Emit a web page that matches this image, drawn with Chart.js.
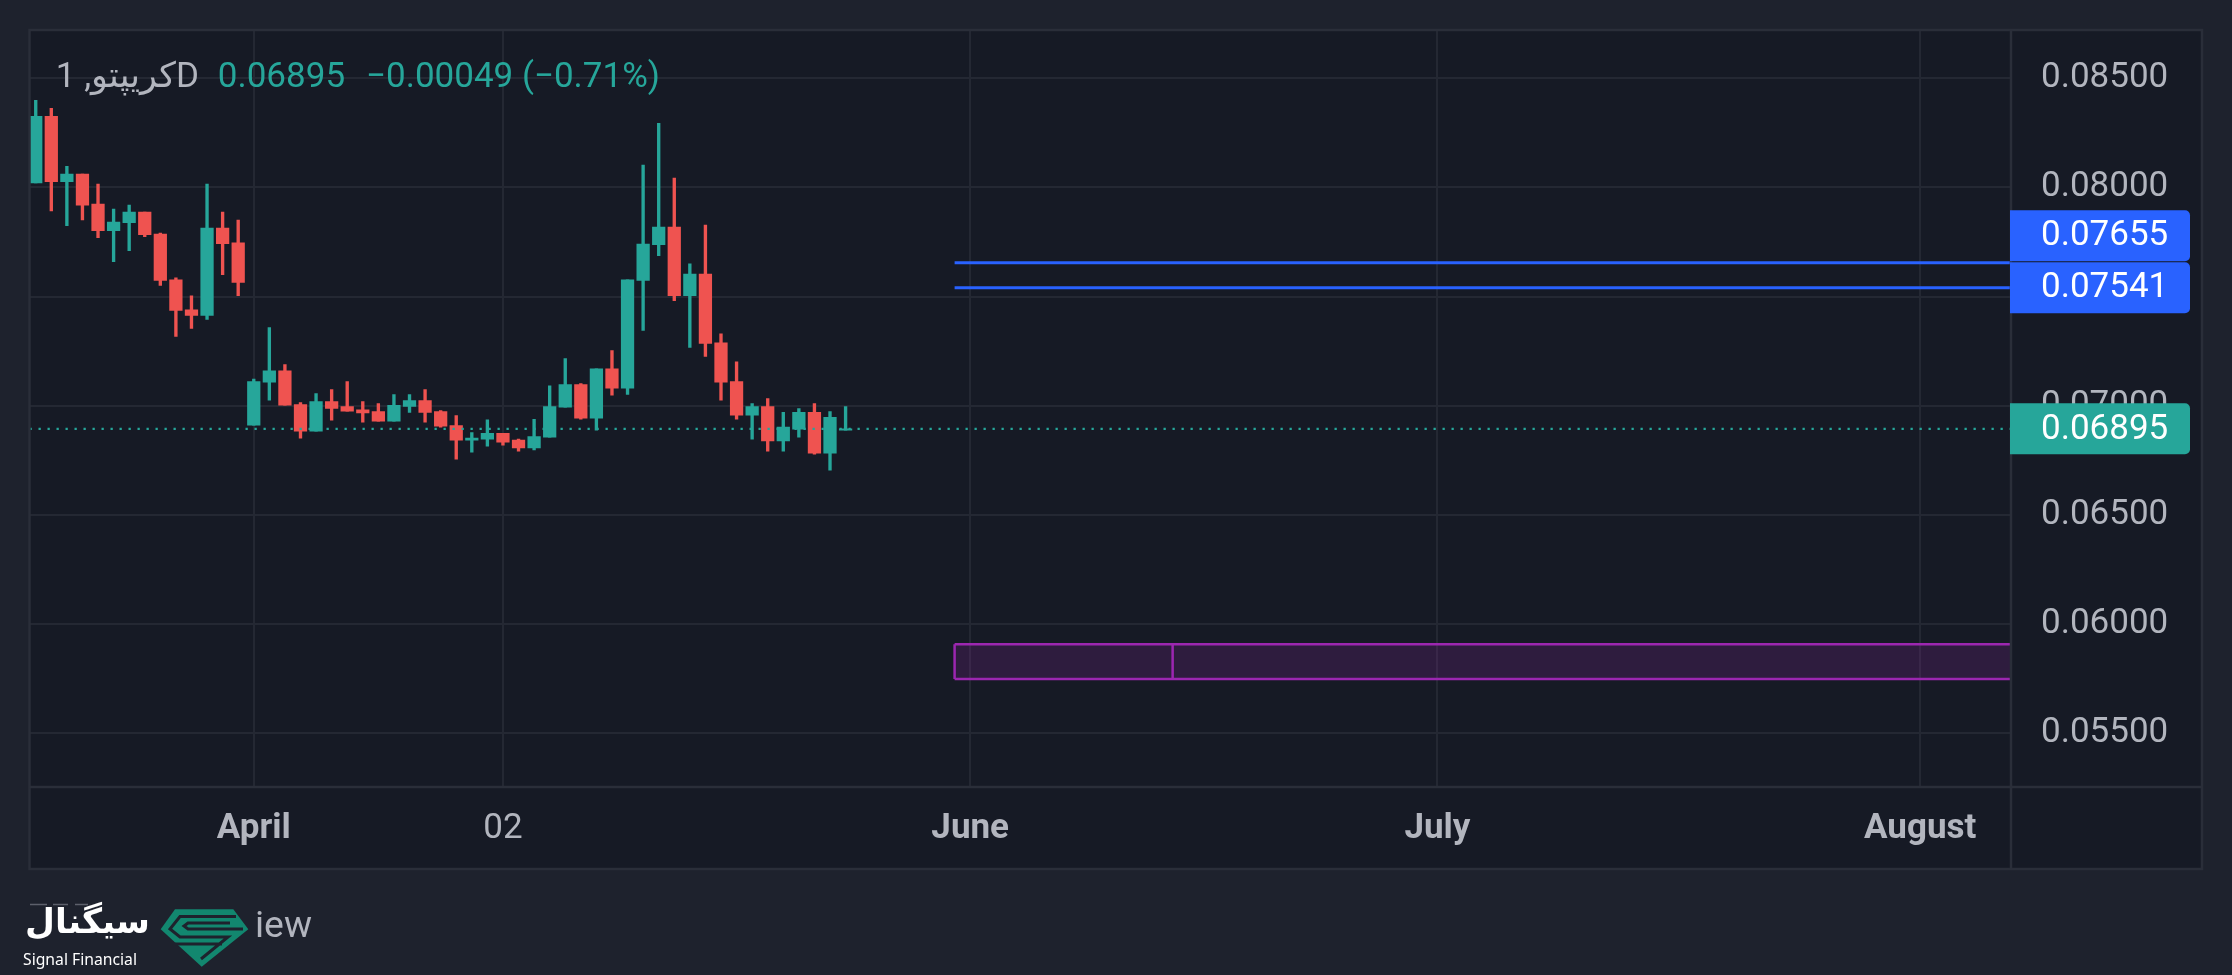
<!DOCTYPE html>
<html><head><meta charset="utf-8">
<script src="https://cdn.jsdelivr.net/npm/chart.js@4.4.0/dist/chart.umd.min.js"></script>
<style>html,body{margin:0;padding:0;background:#1e222d;overflow:hidden}canvas{display:block}</style>
</head><body>
<canvas id="c" width="2232" height="975" style="width:2232px;height:975px"></canvas>
<script>
// ---- data ----
const candleOpen  = [0.08021,0.08326,0.08026,0.08061,0.07924,0.07802,0.07839,0.07887,0.07787,0.07577,0.07440,0.07414,0.07814,0.07746,
                     0.06912,0.07108,0.07161,0.07006,0.06884,0.07020,0.06997,0.06982,0.06974,0.06930,0.06997,0.07024,0.06974,0.06910,
                     0.06843,0.06848,0.06874,0.06843,0.06807,0.06857,0.06994,0.07097,0.06944,0.07170,0.07081,0.07574,0.07738,0.07819,
                     0.07505,0.07604,0.07289,0.07111,0.06957,0.06997,0.06839,0.06893,0.06970,0.06784,0.06889];
const candleHigh  = [0.08399,0.08362,0.08097,0.08061,0.08015,0.07901,0.07919,0.07887,0.07791,0.07586,0.07504,0.08015,0.07887,0.07851,
                     0.07123,0.07358,0.07189,0.07015,0.07056,0.07075,0.07111,0.07020,0.07011,0.07052,0.07052,0.07075,0.06979,0.06956,
                     0.06878,0.06936,0.06874,0.06848,0.06938,0.07092,0.07216,0.07102,0.07170,0.07253,0.07577,0.08102,0.08294,0.08043,
                     0.07650,0.07828,0.07330,0.07202,0.07011,0.07033,0.06970,0.06988,0.07011,0.06974,0.06997];
const candleLow   = [0.08021,0.07893,0.07825,0.07852,0.07770,0.07660,0.07711,0.07775,0.07551,0.07318,0.07355,0.07396,0.07601,0.07505,
                     0.06912,0.07026,0.07003,0.06852,0.06884,0.06935,0.06976,0.06925,0.06930,0.06930,0.06970,0.06925,0.06903,0.06756,
                     0.06788,0.06816,0.06820,0.06793,0.06798,0.06857,0.06994,0.06939,0.06889,0.07049,0.07053,0.07346,0.07688,0.07482,
                     0.07268,0.07227,0.07026,0.06939,0.06848,0.06793,0.06793,0.06857,0.06779,0.06706,0.06889];
const candleClose = [0.08326,0.08026,0.08061,0.07919,0.07802,0.07842,0.07887,0.07784,0.07574,0.07437,0.07414,0.07814,0.07743,0.07565,
                     0.07111,0.07161,0.07003,0.06884,0.07020,0.06988,0.06976,0.06968,0.06930,0.07002,0.07024,0.06970,0.06907,0.06843,
                     0.06852,0.06874,0.06834,0.06807,0.06860,0.06997,0.07097,0.06944,0.07170,0.07081,0.07577,0.07741,0.07819,0.07505,
                     0.07604,0.07286,0.07108,0.06957,0.06997,0.06839,0.06903,0.06970,0.06784,0.06947,0.06895];
const xTickPos    = [14, 30, 60, 90, 121];
const xTickLabels = ['April', '02', 'June', 'July', 'August'];
const xTickBold   = [true, false, true, true, true];
const yTicks      = [0.055, 0.060, 0.065, 0.070, 0.075, 0.080, 0.085];
const levelPrices = [0.07655, 0.07541];
const levelStart  = 59;
const lastPrice   = 0.06895;
const zoneLow = 0.05749, zoneHigh = 0.05909;
const zoneStart = 59, zoneSplit = 73;
const xMin = -0.4, xMax = 126.83;
const yMin = 0.05255, yMax = 0.08721;
const titleName   = 'کریپتو, 1D';
const titlePrice  = '0.06895';
const titleChange = '\u22120.00049 (\u22120.71%)';

// ---- styles ----
const UP = '#26a69a', DOWN = '#ef5350', BLUE = '#2962ff', PURPLE = '#9c27b0';
const OUTER = '#1e222d', PANEL = '#161a25', BORDER = '#2a2e39', GRID = '#242833', TXT = '#b2b5be';

const idx = candleOpen.map((_, i) => i);
const candleColors = idx.map(i => candleClose[i] >= candleOpen[i] ? UP : DOWN);

function fitText(ctx, text, x, y, width, weight, family, color, align) {
  ctx.font = weight + ' 100px ' + family;
  const w = ctx.measureText(text).width;
  const size = 100 * width / w;
  ctx.font = weight + ' ' + size + 'px ' + family;
  ctx.fillStyle = color; ctx.textAlign = align; ctx.textBaseline = 'alphabetic';
  ctx.fillText(text, x, y);
}

const frame = {
  id: 'frame',
  beforeDraw(chart) {
    const ctx = chart.ctx;
    ctx.save();
    ctx.fillStyle = OUTER; ctx.fillRect(0, 0, chart.width, chart.height);
    ctx.fillStyle = PANEL; ctx.fillRect(29.5, 30, 2202 - 29.5, 869 - 30);
    ctx.restore();
  },
  afterDraw(chart) {
    const ctx = chart.ctx;
    const ys = chart.scales.y;
    const area = chart.chartArea;
    ctx.save();
    // panel borders
    ctx.strokeStyle = BORDER; ctx.lineWidth = 2.5;
    ctx.strokeRect(29.5, 30, 2202 - 29.5, 869 - 30);
    ctx.beginPath();
    ctx.moveTo(area.right, 30); ctx.lineTo(area.right, 869);
    ctx.moveTo(29.5, area.bottom); ctx.lineTo(2202, area.bottom);
    ctx.stroke();

    // price label boxes on the right axis
    const boxH = 51, boxL = area.right - 1, boxR = 2190;
    function box(cy, color, text) {
      ctx.fillStyle = color;
      ctx.beginPath();
      ctx.roundRect(boxL, cy - boxH / 2, boxR - boxL, boxH, [0, 5, 5, 0]);
      ctx.fill();
      ctx.fillStyle = '#ffffff';
      ctx.font = '35px Roboto';
      ctx.textAlign = 'left'; ctx.textBaseline = 'middle';
      ctx.fillText(text, area.right + 30, cy + 1);
    }
    const c2 = ys.getPixelForValue(levelPrices[1]);
    const c1 = Math.min(ys.getPixelForValue(levelPrices[0]), c2 - boxH - 1);
    box(c1, BLUE, levelPrices[0].toFixed(5));
    box(c2, BLUE, levelPrices[1].toFixed(5));
    box(ys.getPixelForValue(lastPrice), UP, lastPrice.toFixed(5));

    // title
    ctx.font = '35px Roboto, "DejaVu Sans", sans-serif';
    ctx.textBaseline = 'alphabetic'; ctx.textAlign = 'left';
    ctx.fillStyle = TXT; ctx.fillText(titleName, 55.8, 87);
    ctx.fillStyle = UP; ctx.fillText(titlePrice, 217.8, 87);
    ctx.fillText(titleChange, 366, 87);

    // logo
    ctx.strokeStyle = '#5d606b'; ctx.lineWidth = 1.5;
    ctx.beginPath();
    ctx.moveTo(30, 904.5); ctx.lineTo(47, 904.5);
    ctx.moveTo(53, 904.5); ctx.lineTo(68, 904.5);
    ctx.moveTo(75, 904.5); ctx.lineTo(88, 904.5);
    ctx.stroke();
    fitText(ctx, 'سیگنال', 150, 933, 125, 'bold', '"DejaVu Sans", sans-serif', '#ffffff', 'right');
    fitText(ctx, 'Signal Financial', 23, 965, 114, 'normal', '"Noto Sans", sans-serif', '#ffffff', 'left');
    fitText(ctx, 'iew', 255, 936.5, 57, 'normal', 'Roboto, sans-serif', TXT, 'left');
    // gem icon
    ctx.fillStyle = '#12876f';
    ctx.beginPath();
    ctx.moveTo(175, 909.3); ctx.lineTo(233.3, 909.3); ctx.lineTo(248.3, 929.3);
    ctx.lineTo(201.7, 966.7); ctx.lineTo(160.7, 929.3); ctx.closePath();
    ctx.fill();
    ctx.strokeStyle = OUTER; ctx.lineWidth = 3;
    ctx.beginPath();
    ctx.moveTo(236, 916.5); ctx.lineTo(180, 916.5); ctx.lineTo(170, 929); ctx.lineTo(180, 937);
    ctx.lineTo(228, 937); ctx.lineTo(201, 959);
    ctx.moveTo(243, 929); ctx.lineTo(188, 929); ctx.lineTo(184, 926); ctx.lineTo(188, 923); ctx.lineTo(230, 923);
    ctx.moveTo(175, 944); ctx.lineTo(222, 944);
    ctx.stroke();
    ctx.restore();
  }
};

const lineBase = { type: 'line', pointRadius: 0, fill: false, tension: 0 };

new Chart(document.getElementById('c'), {
  type: 'bar',
  data: {
    datasets: [
      Object.assign({}, lineBase, { label: 'last', data: [{x: xMin, y: lastPrice}, {x: xMax, y: lastPrice}],
        borderColor: UP, borderWidth: 2.3, borderDash: [2.3, 6.7], order: 0, clip: 0 }),
      { type: 'bar', label: 'bodies', data: idx.map(i => ({x: i, y: [candleOpen[i], candleClose[i]]})),
        backgroundColor: candleColors, barThickness: 12.6, grouped: false, borderWidth: 0, borderSkipped: false, order: 1, clip: 0 },
      { type: 'bar', label: 'wicks', data: idx.map(i => ({x: i, y: [candleLow[i], candleHigh[i]]})),
        backgroundColor: candleColors, barThickness: 2.7, grouped: false, borderWidth: 0, borderSkipped: false, order: 2, clip: 0 },
      Object.assign({}, lineBase, { label: 'level1', data: [{x: levelStart, y: levelPrices[0]}, {x: xMax, y: levelPrices[0]}],
        borderColor: BLUE, borderWidth: 3, order: 3, clip: 0 }),
      Object.assign({}, lineBase, { label: 'level2', data: [{x: levelStart, y: levelPrices[1]}, {x: xMax, y: levelPrices[1]}],
        borderColor: BLUE, borderWidth: 3, order: 3, clip: 0 }),
      Object.assign({}, lineBase, { label: 'zoneTop', data: [{x: zoneStart, y: zoneHigh}, {x: xMax, y: zoneHigh}],
        borderColor: PURPLE, borderWidth: 2.5, fill: '+1', backgroundColor: 'rgba(156,39,176,0.18)', order: 4, clip: 0 }),
      Object.assign({}, lineBase, { label: 'zoneBottom', data: [{x: zoneStart, y: zoneLow}, {x: xMax, y: zoneLow}],
        borderColor: PURPLE, borderWidth: 2.5, order: 4, clip: 0 }),
      Object.assign({}, lineBase, { label: 'zoneLeft', data: [{x: zoneStart, y: zoneLow}, {x: zoneStart, y: zoneHigh}],
        borderColor: PURPLE, borderWidth: 2.5, order: 4, clip: 0 }),
      Object.assign({}, lineBase, { label: 'zoneSplit', data: [{x: zoneSplit, y: zoneLow}, {x: zoneSplit, y: zoneHigh}],
        borderColor: PURPLE, borderWidth: 2.5, order: 4, clip: 0 })
    ]
  },
  options: {
    responsive: false,
    devicePixelRatio: 1,
    animation: false,
    events: [],
    layout: { padding: { left: 29.5, top: 30, right: 30, bottom: 106 } },
    plugins: { legend: { display: false }, tooltip: { enabled: false }, title: { display: false } },
    scales: {
      x: {
        type: 'linear', min: xMin, max: xMax, offset: false,
        grid: { color: GRID, lineWidth: 2, drawTicks: false, offset: false },
        border: { display: false },
        afterBuildTicks: s => { s.ticks = xTickPos.map(v => ({ value: v })); },
        afterFit: s => { s.height = 82; s.paddingLeft = 0; s.paddingRight = 0; s.paddingTop = 0; s.paddingBottom = 0; },
        ticks: {
          autoSkip: false, maxRotation: 0, minRotation: 0, padding: 21, color: TXT,
          font: c => ({ family: 'Roboto', size: 35, weight: xTickBold[c.index] ? 'bold' : 'normal' }),
          callback: (v, i) => xTickLabels[i]
        }
      },
      y: {
        type: 'linear', position: 'right', min: yMin, max: yMax,
        grid: { color: GRID, lineWidth: 2, drawTicks: false },
        border: { display: false },
        afterBuildTicks: s => { s.ticks = yTicks.map(v => ({ value: v })); },
        afterFit: s => { s.width = 191; s.paddingLeft = 0; s.paddingRight = 0; s.paddingTop = 0; s.paddingBottom = 0; },
        ticks: { padding: 30, color: TXT, font: { family: 'Roboto', size: 35 }, callback: v => v.toFixed(5) }
      }
    }
  },
  plugins: [frame]
});
</script>
</body></html>
